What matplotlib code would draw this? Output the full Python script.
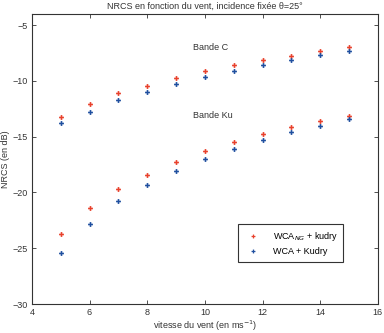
import matplotlib
matplotlib.use('Agg')
import matplotlib.pyplot as plt

# vent (m/s)
vent = [5, 6, 7, 8, 9, 10, 11, 12, 13, 14, 15]

# bande C
c_ng = [-13.2, -12.1, -11.1, -10.5, -9.7, -9.15, -8.6, -8.15, -7.75, -7.35, -7.0]
c_wca = [-13.8, -12.75, -11.7, -11.0, -10.3, -9.65, -9.1, -8.55, -8.15, -7.7, -7.3]

# bande Ku
ku_ng = [-23.7, -21.4, -19.7, -18.4, -17.3, -16.3, -15.5, -14.8, -14.1, -13.6, -13.1]
ku_wca = [-25.4, -22.8, -20.8, -19.35, -18.1, -17.0, -16.1, -15.3, -14.6, -14.0, -13.45]

red = '#e8412c'
blue = '#1f4f9f'

plt.rcParams['font.family'] = 'Liberation Sans'
plt.rcParams['font.size'] = 6.5

fig = plt.figure(figsize=(3.84, 3.33), dpi=100)
ax = fig.add_axes([0.083, 0.087, 0.901, 0.871])

ax.plot(vent, c_ng, 'P', color=red, ms=3.5, mew=0, label='WCA$_{NG}$ + kudry')
ax.plot(vent, c_wca, 'P', color=blue, ms=3.5, mew=0, label='WCA + Kudry')
ax.plot(vent, ku_ng, 'P', color=red, ms=3.5, mew=0)
ax.plot(vent, ku_wca, 'P', color=blue, ms=3.5, mew=0)

ax.text(9.6, -7.0, 'Bande C', va='center', color='#333333')
ax.text(9.6, -13.1, 'Bande Ku', va='center', color='#333333')

ax.set_xlim(4, 16)
ax.set_ylim(-30, -4)
ax.set_xticks([4, 6, 8, 10, 12, 14, 16])
ax.set_yticks([-30, -25, -20, -15, -10, -5])
ax.set_yticklabels(['\u221230', '\u221225', '\u221220', '\u221215', '\u221210', '\u22125'])
ax.tick_params(direction='in', length=3, width=0.6, top=True, right=True, colors='#333333', pad=3)
for s in ax.spines.values():
    s.set_linewidth(0.8)
    s.set_color('#333333')

ax.set_xlabel('vitesse du vent (en ms$^{-1}$)', labelpad=1, color='#333333')
ax.set_ylabel('NRCS (en dB)', labelpad=2, color='#333333')
ax.set_title('NRCS en fonction du vent, incidence fix\u00e9e \u03b8=25\u00b0', fontsize=6.5, pad=4, color='#333333')

leg = ax.legend(loc='lower right', bbox_to_anchor=(0.913, 0.13), fancybox=False,
                edgecolor='#333333', framealpha=1, handletextpad=1.2, borderpad=0.6,
                markerscale=0.8)
leg.get_frame().set_linewidth(0.8)

fig.savefig('out.png', dpi=100)
